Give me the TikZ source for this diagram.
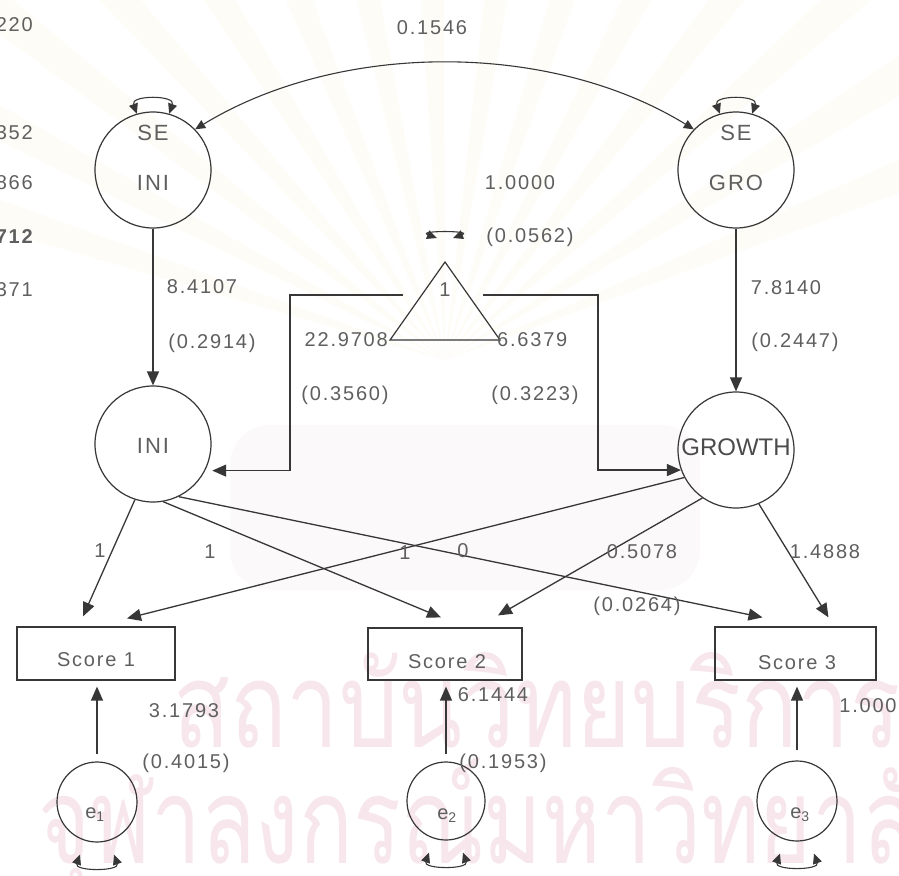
\documentclass[tikz,border=0pt]{standalone}
\usepackage{fontspec}
\usepackage{graphicx}
\setmainfont{Liberation Sans}
\newfontfamily\lblfont[LetterSpace=9]{Liberation Sans}
\newfontfamily\thaifont[Script=Thai]{Loma}
\usetikzlibrary{arrows.meta,calc}
\definecolor{ink}{RGB}{55,55,55}
\definecolor{lbltext}{RGB}{95,95,95}
\definecolor{wmpink}{RGB}{247,230,235}
\definecolor{raycream}{RGB}{253,252,246}
\definecolor{tint}{RGB}{252,249,250}
\begin{document}
\begin{tikzpicture}[x=1pt,y=1pt,
  lbl/.style={font=\lblfont\fontsize{20}{24}\selectfont, text=lbltext, inner sep=0pt},
  big/.style={font=\lblfont\fontsize{22}{26}\selectfont, text=lbltext, inner sep=0pt},
  lat/.style={circle, draw=ink, line width=1.2pt, minimum size=116pt, inner sep=0pt},
  errc/.style={circle, draw=ink, line width=1.2pt, minimum size=80pt, inner sep=0pt},
  obs/.style={rectangle, draw=ink, line width=1.2pt, minimum height=53pt, inner sep=0pt},
  headed/.style={-{Triangle[length=14pt,width=12pt]}},
  arr/.style={draw=ink, line width=1.3pt, headed},
  dbl/.style={draw=ink, line width=1.1pt, {Triangle[length=10pt,width=9pt]}-{Triangle[length=10pt,width=9pt]}},
]
\useasboundingbox (0,0) rectangle (899,-875);
\fill[white] (0,0) rectangle (899,-875);

% faint background emblem: rays and tinted base
\coordinate (raycentre) at (445,-360);
\foreach \a in {22,32,...,162}
  \fill[raycream] (raycentre) -- ($(raycentre)+(\a-1.8:620)$) -- ($(raycentre)+(\a+1.8:620)$) -- cycle;
\fill[tint, rounded corners=40pt] (230,-425) rectangle (700,-590);

% watermark lines
\node[anchor=base west, text=wmpink, inner sep=0pt] (wmone) at (173,-747)
  {\resizebox{727pt}{95pt}{\thaifont สถาบันวิทยบริการ}};
\node[anchor=base west, text=wmpink, inner sep=0pt] (wmtwo) at (38,-863)
  {\resizebox{930pt}{105pt}{\thaifont จุฬาลงกรณ์มหาวิทยาลัย}};

% clipped column of values at the left edge
\node[lbl, anchor=east] (cola) at (33,-25) {220};
\node[lbl, anchor=east] (colb) at (33,-133) {352};
\node[lbl, anchor=east] (colc) at (33,-183) {866};
\node[lbl, anchor=east, font=\lblfont\bfseries\fontsize{20}{24}\selectfont] (cold) at (33,-237) {712};
\node[lbl, anchor=east] (cole) at (33,-290) {371};

% latent variables
\node[lat] (seini) at (153,-170) {};
\node[big] (seinia) at (153,-133) {SE};
\node[big] (seinib) at (153,-183) {INI};
\node[lat] (segro) at (736,-170) {};
\node[big] (segroa) at (736,-133) {SE};
\node[big] (segrob) at (736,-183) {GRO};
\node[lat] (ini) at (153,-444) {};
\node[big] (inilbl) at (153,-446) {INI};
\node[lat] (growth) at (736,-450) {};
\node[font=\fontsize{24}{28}\selectfont, text=ink!90, inner sep=0pt] (growthlbl) at (736,-447) {GROWTH};

% constant
\coordinate (tritop) at (445,-262);
\coordinate (trileft) at (390,-340);
\coordinate (triright) at (500,-340);
\draw[ink, line width=1.2pt, line join=miter] (tritop) -- (trileft) -- (triright) -- cycle;
\node[lbl] (onelbl) at (445,-290) {1};

% observed scores
\node[obs, minimum width=158pt] (sa) at (96,-653.5) {};
\node[obs, minimum width=154pt, minimum height=52pt] (sb) at (445,-654) {};
\node[obs, minimum width=161pt] (sc) at (795.5,-653.5) {};
\node[lbl] (salbl) at (96,-660) {Score 1};
\node[lbl] (sblbl) at (447,-662) {Score 2};
\node[lbl] (sclbl) at (797,-663) {Score 3};

% residuals
\node[errc] (ea) at (97,-802) {};
\node[errc, minimum size=78pt] (eb) at (446,-801) {};
\node[errc] (ec) at (797,-801) {};
\node[lbl] (ealbl) at (95,-815) {e\textsubscript{1}};
\node[lbl] (eblbl) at (447,-816) {e\textsubscript{2}};
\node[lbl] (eclbl) at (800,-815) {e\textsubscript{3}};

% covariance between the two second-order factors
\draw[dbl] (seini.44) .. controls (340,-41) and (550,-41) .. (segro.136);
\node[lbl] (covlbl) at (432,-28) {0.1546};

% variance loops
\draw[dbl] (seini.106) .. controls +(110:20) and +(70:20) .. (seini.74);
\draw[dbl] (segro.106) .. controls +(110:20) and +(70:20) .. (segro.74);
\draw[dbl] ($(tritop)+(-8,24)$) .. controls +(160:22) and +(20:22) .. ($(tritop)+(8,24)$);
\draw[dbl] ($(ea.south)+(-17,-12)$) .. controls +(-110:18) and +(-70:18) .. ($(ea.south)+(17,-12)$);
\draw[dbl] ($(eb.south)+(-17,-12)$) .. controls +(-110:18) and +(-70:18) .. ($(eb.south)+(17,-12)$);
\draw[dbl] ($(ec.south)+(-17,-12)$) .. controls +(-110:18) and +(-70:18) .. ($(ec.south)+(17,-12)$);

% loadings of the second-order factors
\draw[arr] (seini) -- (ini);
\draw[arr] (segro) -- (growth);
\node[lbl] (lda) at (202,-287) {8.4107};
\node[lbl] (ldase) at (212,-343) {(0.2914)};
\node[lbl] (ldb) at (786,-288) {7.8140};
\node[lbl] (ldbse) at (795,-342) {(0.2447)};

% means from the constant
\coordinate (meanl) at (403,-295);
\coordinate (meanr) at (483,-295);
\draw[arr, shorten >=7pt] (meanl) -- (290,-295) |- (ini.-27);
\draw[arr] (meanr) -- (598,-295) |- (growth.200);
\node[lbl] (vconst) at (520,-183) {1.0000};
\node[lbl] (vconstse) at (530,-237) {(0.0562)};
\node[lbl, anchor=east] (mini) at (388,-340) {22.9708};
\node[lbl] (minise) at (345,-395) {(0.3560)};
\node[lbl, anchor=west] (mgro) at (497,-340) {6.6379};
\node[lbl] (mgrose) at (535,-395) {(0.3223)};

% growth curve loadings
\draw[arr] (ini.-108) -- ($(sa.north)+(-13,10)$);
\draw[arr] (ini.-80) -- ($(sb.north)+(-4,10)$);
\draw[arr] (ini.-64) -- ($(sc.north)+(-33,9)$);
\draw[arr] (growth.208) -- ($(sa.north)+(31,8)$);
\draw[arr] (growth.-125) -- ($(sb.north)+(53,12)$);
\draw[arr] (growth.-67) -- ($(sc.north)+(33,9)$);
\node[lbl] (la) at (100,-551) {1};
\node[lbl] (lb) at (210,-552) {1};
\node[lbl] (lc) at (405,-553) {1};
\node[lbl] (ld) at (463,-551) {0};
\node[lbl] (le) at (642,-552) {0.5078};
\node[lbl] (lese) at (637,-606) {(0.0264)};
\node[lbl] (lf) at (825,-552) {1.4888};

% residual paths
\draw[arr, shorten <=7pt, shorten >=6pt] (ea.north) -- (ea.north |- sa.south);
\draw[arr, shorten <=7pt, shorten >=6pt] (eb.north) -- (eb.north |- sb.south);
\draw[arr, shorten <=10pt, shorten >=6pt] (ec.north) -- (ec.north |- sc.south);
\node[lbl] (ra) at (184,-711) {3.1793};
\node[lbl] (rase) at (186,-763) {(0.4015)};
\node[lbl] (rb) at (493,-695) {6.1444};
\node[lbl] (rbse) at (503,-763) {(0.1953)};
\node[lbl] (rc) at (868,-706) {1.000};
\end{tikzpicture}
\end{document}
